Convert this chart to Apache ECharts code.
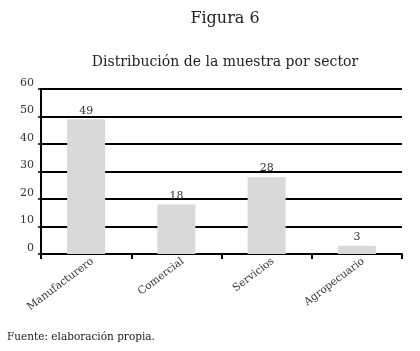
<!DOCTYPE html>
<html><head><meta charset="utf-8">
<script src="https://cdn.jsdelivr.net/npm/echarts@6/dist/echarts.min.js"></script>
<style>html,body{margin:0;padding:0;background:#fff}#c{width:420px;height:351px}</style>
</head><body><div id="c"></div>
<script>
const categories = ['Manufacturero', 'Comercial', 'Servicios', 'Agropecuario'];
const values = [49, 18, 28, 3];
const yTicks = [0, 10, 20, 30, 40, 50, 60];
const titleText = 'Figura 6';
const subtitleText = 'Distribución de la muestra por sector';
const sourceText = 'Fuente: elaboración propia.';

const font = 'DejaVu Serif';
const chart = echarts.init(document.getElementById('c'), null, {renderer: 'canvas'});
chart.setOption({
  animation: false,
  backgroundColor: '#fff',
  title: [
    {text: titleText, left: 225, top: 11, padding: 0, textAlign: 'center',
     textStyle: {fontFamily: font, fontSize: 16, fontWeight: 'normal', color: '#222'}},
    {text: subtitleText, left: 225, top: 55, padding: 0, textAlign: 'center',
     textStyle: {fontFamily: font, fontSize: 14, fontWeight: 'normal', color: '#222'}},
    {text: sourceText, left: 7, top: 332, padding: 0,
     textStyle: {fontFamily: font, fontSize: 10.5, fontWeight: 'normal', color: '#222'}}
  ],
  grid: {left: 41, right: 18, top: 89, bottom: 97, containLabel: false},
  xAxis: {
    type: 'category', data: categories,
    axisLine: {lineStyle: {color: '#000', width: 2}},
    axisTick: {show: true, length: 5, lineStyle: {color: '#000', width: 2}, alignWithLabel: false},
    axisLabel: {rotate: 37, fontFamily: font, fontSize: 10.5, color: '#333', margin: 11, interval: 0, padding: [0, -8, 0, 0]}
  },
  yAxis: {
    type: 'value', min: yTicks[0], max: yTicks[yTicks.length - 1], interval: 10,
    axisLine: {show: true, lineStyle: {color: '#000', width: 2}},
    axisTick: {show: true, length: 3, lineStyle: {color: '#000', width: 1.5}},
    axisLabel: {fontFamily: font, fontSize: 11, color: '#333', margin: 7, verticalAlign: 'bottom', lineHeight: 12},
    splitLine: {show: true, lineStyle: {color: '#000', width: 2}}
  },
  series: [{
    type: 'bar', data: values, barWidth: 38, z: 3,
    itemStyle: {color: '#d9d9d9'},
    label: {show: true, position: 'top', distance: 3, fontFamily: font, fontSize: 11, color: '#333'}
  }]
});
</script></body></html>
